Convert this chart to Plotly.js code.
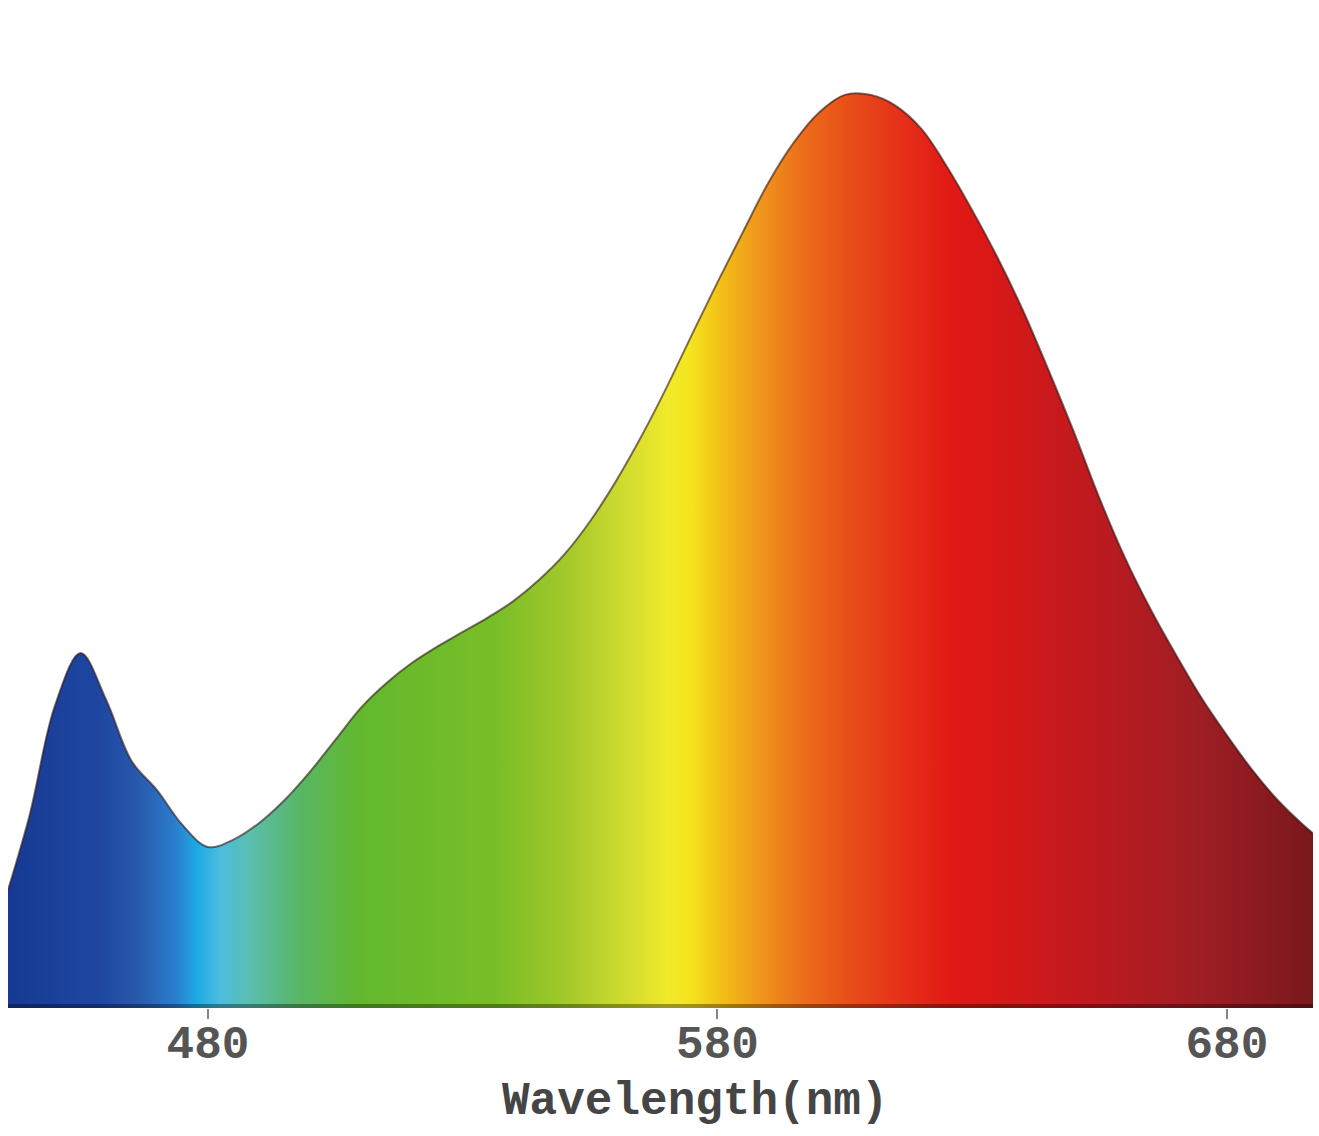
<!DOCTYPE html>
<html>
<head>
<meta charset="utf-8">
<script src="https://cdn.plot.ly/plotly-3.0.1.min.js"></script>
<style>
  html, body { margin: 0; padding: 0; background: #ffffff; }
  #chart { width: 1319px; height: 1136px; }
</style>
</head>
<body>
<div id="chart"></div>
<script>
// Wavelength (nm) sampled along the spectrum outline
const wavelength_nm = [440.75, 445, 450, 455, 460, 465, 470, 475, 480, 485,
  490, 495, 500, 505, 510, 515, 520, 525, 530, 535,
  540, 545, 550, 555, 560, 565, 570, 575, 580, 585,
  590, 595, 600, 605, 610, 615, 620, 625, 630, 635,
  640, 645, 650, 655, 660, 665, 670, 675, 680, 685,
  690, 695, 696.9];
// Relative intensity (peak = 1)
const relative_intensity = [0.129, 0.211, 0.331, 0.388, 0.337, 0.270, 0.238, 0.200, 0.176, 0.184,
  0.202, 0.227, 0.258, 0.293, 0.328, 0.355, 0.377, 0.395, 0.411, 0.427,
  0.445, 0.468, 0.496, 0.532, 0.575, 0.624, 0.678, 0.736, 0.793, 0.848,
  0.902, 0.946, 0.979, 0.998, 0.998, 0.986, 0.961, 0.920, 0.872, 0.820,
  0.762, 0.697, 0.629, 0.557, 0.492, 0.436, 0.386, 0.339, 0.298, 0.260,
  0.227, 0.200, 0.191];
const tick_values = [480, 580, 680];
const tick_labels = ['480', '580', '680'];
const axis_title = 'Wavelength(nm)';

const xMin = 440.75, xMax = 696.9;

const spectrumColors = [
  [0.000, 'rgb(22,58,148)'],
  [0.070, 'rgb(30,70,160)'],
  [0.100, 'rgb(40,90,172)'],
  [0.128, 'rgb(42,125,205)'],
  [0.145, 'rgb(30,170,228)'],
  [0.162, 'rgb(75,188,222)'],
  [0.185, 'rgb(90,190,175)'],
  [0.224, 'rgb(88,182,100)'],
  [0.270, 'rgb(98,184,45)'],
  [0.377, 'rgb(122,190,40)'],
  [0.431, 'rgb(165,202,42)'],
  [0.469, 'rgb(205,218,48)'],
  [0.506, 'rgb(240,234,42)'],
  [0.523, 'rgb(245,228,30)'],
  [0.546, 'rgb(242,192,22)'],
  [0.576, 'rgb(240,150,28)'],
  [0.607, 'rgb(236,112,26)'],
  [0.645, 'rgb(232,78,25)'],
  [0.684, 'rgb(230,48,25)'],
  [0.722, 'rgb(225,25,20)'],
  [0.760, 'rgb(215,24,24)'],
  [0.837, 'rgb(188,26,32)'],
  [0.913, 'rgb(158,30,36)'],
  [1.000, 'rgb(122,24,28)']
];

const trace = {
  type: 'scatter',
  mode: 'lines',
  x: wavelength_nm,
  y: relative_intensity,
  line: { shape: 'spline', smoothing: 1, color: 'rgba(45,20,20,0.6)', width: 2 },
  fill: 'tozeroy',
  fillgradient: {
    type: 'horizontal',
    start: xMin,
    stop: xMax,
    colorscale: spectrumColors
  },
  hoverinfo: 'x+y',
  showlegend: false
};

const layout = {
  width: 1319,
  height: 1136,
  margin: { l: 8, r: 6, t: 20, b: 128 },
  paper_bgcolor: '#ffffff',
  plot_bgcolor: '#ffffff',
  showlegend: false,
  xaxis: {
    range: [xMin, xMax],
    tickmode: 'array',
    tickvals: tick_values,
    ticktext: tick_labels,
    ticks: 'outside',
    ticklen: 10,
    tickwidth: 2,
    tickcolor: '#7d8a8a',
    ticklabelstandoff: -16,
    showgrid: false,
    zeroline: false,
    showline: false,
    tickfont: { family: 'Liberation Mono, Courier New, monospace', size: 46, color: '#555555', weight: 'bold' },
    title: { text: '' }
  },
  yaxis: {
    range: [0, 1.0798],
    showgrid: false,
    zeroline: false,
    showline: false,
    showticklabels: false,
    ticks: ''
  },
  shapes: [{
    type: 'rect',
    xref: 'paper', yref: 'paper',
    x0: 0, x1: 1,
    ysizemode: 'pixel', yanchor: 0,
    y0: 0, y1: 4,
    fillcolor: 'rgba(0,0,0,0.35)',
    line: { width: 0 },
    layer: 'above'
  }],
  annotations: [{
    xref: 'paper', yref: 'paper',
    x: 0.5264, y: 0,
    xanchor: 'center', yanchor: 'top',
    yshift: -66,
    text: axis_title,
    showarrow: false,
    font: { family: 'Liberation Mono, Courier New, monospace', size: 46, color: '#454545', weight: 'bold' }
  }]
};

Plotly.newPlot('chart', [trace], layout, { displayModeBar: false, responsive: false });
</script>
</body>
</html>
